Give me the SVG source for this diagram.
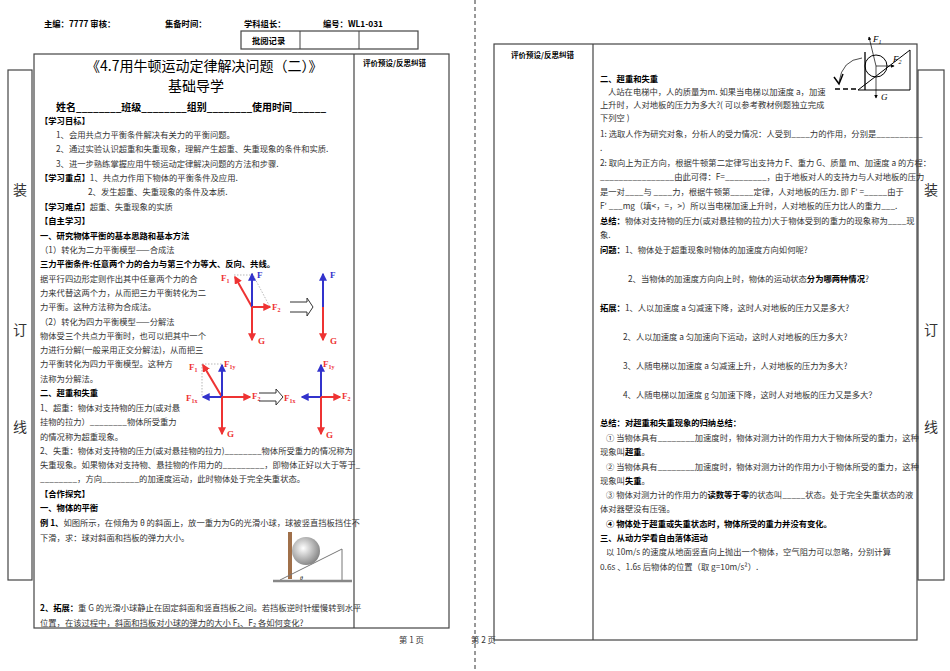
<svg xmlns="http://www.w3.org/2000/svg" width="950" height="671" viewBox="0 0 950 671">
<defs>
<style>
text{font-family:"Noto Sans CJK SC","Liberation Sans",sans-serif;font-size:8.3px;fill:#333}
.b{font-weight:bold;fill:#000}
.h{font-size:14px;fill:#000}
.s{font-size:7.5px}
.frame{fill:none;stroke:#444;stroke-width:1.2}
.red{stroke:#e33;stroke-width:2;fill:none}
.blue{stroke:#33c;stroke-width:2;fill:none}
.dot{stroke:#888;stroke-width:0.6;stroke-dasharray:1.5 1.5;fill:none}
.fr{fill:#e33;font-family:"Liberation Serif",serif;font-weight:bold;font-size:9px}
.fb{fill:#33c;font-family:"Liberation Serif",serif;font-weight:bold;font-size:9px}
.it{font-family:"Liberation Serif",serif;font-style:italic;fill:#000;font-size:9px}
</style>
<marker id="ar" viewBox="0 0 6 6" refX="5" refY="3" markerWidth="4" markerHeight="4" orient="auto"><path d="M0,0L6,3L0,6z" fill="#e33"/></marker>
<marker id="ab" viewBox="0 0 6 6" refX="5" refY="3" markerWidth="4" markerHeight="4" orient="auto"><path d="M0,0L6,3L0,6z" fill="#33c"/></marker>
<marker id="ak" viewBox="0 0 6 6" refX="5" refY="3" markerWidth="5" markerHeight="5" orient="auto"><path d="M0,0L6,3L0,6z" fill="#000"/></marker>
<radialGradient id="ball" cx="0.4" cy="0.4" r="0.7"><stop offset="0" stop-color="#fff"/><stop offset="1" stop-color="#777"/></radialGradient>
</defs>
<rect width="950" height="671" fill="#fff"/>

<g id="header">
<text x="44" y="27" class="b">主编：7777 审核：</text>
<text x="165" y="27" class="b">集备时间：</text>
<text x="244" y="27" class="b">学科组长：</text>
<text x="323" y="27" class="b">编号：WL1-031</text>
<rect x="241" y="31" width="177" height="18" class="frame"/>
<line x1="300" y1="31" x2="300" y2="49" stroke="#444"/>
<line x1="359" y1="31" x2="359" y2="49" stroke="#444"/>
<text x="252" y="44" class="b">批阅记录</text>
</g>

<g id="binding">
<rect x="8" y="70" width="24" height="510" class="frame"/>
<text x="13" y="195" style="font-size:14px">装</text>
<text x="13" y="335" style="font-size:14px">订</text>
<text x="13" y="432" style="font-size:14px">线</text>
<rect x="918" y="70" width="26" height="510" class="frame"/>
<text x="924" y="195" style="font-size:14px">装</text>
<text x="924" y="335" style="font-size:14px">订</text>
<text x="924" y="432" style="font-size:14px">线</text>
<line x1="475" y1="0" x2="475" y2="671" stroke="#333" stroke-dasharray="4 3"/>
<text x="399" y="643">第 1 页</text>
<text x="471" y="643">第 2 页</text>
</g>

<g id="page1">
<rect x="34" y="54" width="415" height="574" class="frame"/>
<line x1="354" y1="54" x2="354" y2="628" stroke="#444" stroke-width="1.2"/>
<text x="363" y="66" class="b s">评价预设/反思纠错</text>
<text x="86" y="71" class="h">《4.7用牛顿运动定律解决问题（二）》</text>
<text x="168" y="91" class="h">基础导学</text>
<text x="56" y="111" class="b" style="font-size:10px">姓名________班级________组别________使用时间______</text>
<text x="40" y="124" class="b">【学习目标】</text>
<text x="56" y="138">1、会用共点力平衡条件解决有关力的平衡问题。</text>
<text x="56" y="152">2、通过实验认识超重和失重现象，理解产生超重、失重现象的条件和实质.</text>
<text x="56" y="167">3、进一步熟练掌握应用牛顿运动定律解决问题的方法和步骤.</text>
<text x="40" y="181"><tspan class="b">【学习重点】</tspan>1、共点力作用下物体的平衡条件及应用.</text>
<text x="88" y="195">2、发生超重、失重现象的条件及本质.</text>
<text x="40" y="210"><tspan class="b">【学习难点】</tspan>超重、失重现象的实质</text>
<text x="40" y="224" class="b">【自主学习】</text>
<text x="40" y="239" class="b">一、研究物体平衡的基本思路和基本方法</text>
<text x="40" y="253">（1）转化为二力平衡模型——合成法</text>
<text x="40" y="267" class="b">三力平衡条件:任意两个力的合力与第三个力等大、反向、共线。</text>
<text x="40" y="282">据平行四边形定则作出其中任意两个力的合</text>
<text x="40" y="296">力来代替这两个力，从而把三力平衡转化为二</text>
<text x="40" y="310">力平衡。这种方法称为合成法。</text>
<text x="40" y="325">（2）转化为四力平衡模型——分解法</text>
<text x="40" y="339">物体受三个共点力平衡时，也可以把其中一个</text>
<text x="40" y="353">力进行分解(一般采用正交分解法)，从而把三</text>
<text x="40" y="367">力平衡转化为四力平衡模型。这种方</text>
<text x="40" y="382">法称为分解法。</text>
<text x="40" y="396" class="b">二、超重和失重</text>
<text x="40" y="411">1、超重：物体对支持物的压力(或对悬</text>
<text x="40" y="425">挂物的拉力）________物体所受重力</text>
<text x="40" y="440">的情况称为超重现象。</text>
<text x="40" y="454">2、失重：物体对支持物的压力(或对悬挂物的拉力)________物体所受重力的情况称为</text>
<text x="40" y="468">失重现象。如果物体对支持物、悬挂物的作用力的_________，即物体正好以大于等于_</text>
<text x="40" y="482">________，方向________的加速度运动，此时物体处于完全失重状态。</text>
<text x="40" y="497" class="b">【合作探究】</text>
<text x="40" y="511" class="b">一、物体的平衡</text>
<text x="40" y="526"><tspan class="b">例 1、</tspan>如图所示，在倾角为 θ 的斜面上，放一重力为G的光滑小球，球被竖直挡板挡住不</text>
<text x="40" y="541">下滑，求：球对斜面和挡板的弹力大小。</text>
<text x="40" y="611"><tspan class="b">2、拓展：</tspan>重 G 的光滑小球静止在固定斜面和竖直挡板之间。若挡板逆时针缓慢转到水平</text>
<text x="40" y="626">位置，在该过程中，斜面和挡板对小球的弹力的大小 F₁、F₂ 各如何变化?</text>
</g>

<g id="figA">
<line x1="234" y1="275" x2="252" y2="275" class="dot"/>
<line x1="252" y1="273" x2="270" y2="307" class="dot"/>
<line x1="252" y1="307" x2="235" y2="277" class="red" marker-end="url(#ar)"/>
<line x1="252" y1="307" x2="252" y2="274" class="blue" marker-end="url(#ab)"/>
<line x1="252" y1="307" x2="270" y2="307" class="red" marker-end="url(#ar)"/>
<line x1="252" y1="307" x2="252" y2="340" class="red" marker-end="url(#ar)"/>
<text x="221" y="281" class="fr">F<tspan dy="2" font-size="6">1</tspan></text>
<text x="257" y="278" class="fb">F</text>
<text x="272" y="310" class="fr">F<tspan dy="2" font-size="6">2</tspan></text>
<text x="258" y="344" class="fr">G</text>
<path d="M290,302H307V298L313,307L307,316V312H290" fill="none" stroke="#333"/>
<line x1="323" y1="307" x2="323" y2="274" class="blue" marker-end="url(#ab)"/>
<line x1="323" y1="307" x2="323" y2="340" class="red" marker-end="url(#ar)"/>
<text x="330" y="278" class="fb">F</text>
<text x="330" y="344" class="fr">G</text>
</g>

<g id="figB">
<line x1="202" y1="364" x2="222" y2="364" class="dot"/>
<line x1="202" y1="364" x2="202" y2="397" class="dot"/>
<line x1="222" y1="397" x2="203" y2="365" class="red" marker-end="url(#ar)"/>
<line x1="222" y1="397" x2="222" y2="365" class="blue" marker-end="url(#ab)"/>
<line x1="222" y1="397" x2="250" y2="397" class="red" marker-end="url(#ar)"/>
<line x1="222" y1="397" x2="203" y2="397" class="blue" marker-end="url(#ab)"/>
<line x1="222" y1="397" x2="222" y2="434" class="red" marker-end="url(#ar)"/>
<text x="189" y="370" class="fr">F<tspan dy="2" font-size="6">1</tspan></text>
<text x="224" y="367" class="fr">F<tspan dy="2" font-size="6">1y</tspan></text>
<text x="252" y="399" class="fr">F<tspan dy="2" font-size="6">2</tspan></text>
<text x="186" y="401" class="fr">F<tspan dy="2" font-size="6">1x</tspan></text>
<text x="227" y="437" class="fr">G</text>
<path d="M259,393H276V389L283,397L276,405V401H259" fill="none" stroke="#333"/>
<text x="284" y="401" class="fr">F<tspan dy="2" font-size="6">1x</tspan></text>
<line x1="321" y1="397" x2="321" y2="365" class="blue" marker-end="url(#ab)"/>
<line x1="321" y1="397" x2="302" y2="397" class="blue" marker-end="url(#ab)"/>
<line x1="321" y1="397" x2="340" y2="397" class="red" marker-end="url(#ar)"/>
<line x1="321" y1="397" x2="321" y2="434" class="red" marker-end="url(#ar)"/>
<text x="323" y="367" class="fr">F<tspan dy="2" font-size="6">1y</tspan></text>
<text x="342" y="399" class="fr">F<tspan dy="2" font-size="6">2</tspan></text>
<text x="326" y="438" class="fr">G</text>
</g>

<g id="figBall">
<rect x="288" y="532" width="4" height="47" fill="#a0704a"/>
<circle cx="306" cy="551" r="14" fill="url(#ball)"/>
<path d="M280,580L342,549V580" fill="none" stroke="#777"/>
<line x1="273" y1="581" x2="352" y2="581" stroke="#888" stroke-width="2.5"/>
<text x="300" y="580" class="it" style="font-size:6px">θ</text>
</g>

<g id="page2">
<rect x="494" y="44" width="423" height="596" class="frame"/>
<line x1="593" y1="44" x2="593" y2="640" stroke="#444" stroke-width="1.2"/>
<text x="511" y="58" class="b s">评价预设/反思纠错</text>
<text x="600" y="82" class="b">二、超重和失重</text>
<text x="608" y="95">人站在电梯中，人的质量为m. 如果当电梯以加速度 a，加速</text>
<text x="600" y="108">上升时，人对地板的压力为多大?( 可以参考教材例题独立完成</text>
<text x="600" y="121">下列空 )</text>
<text x="600" y="137">1: 选取人作为研究对象，分析人的受力情况：人受到____力的作用，分别是__________</text>
<text x="600" y="151">.</text>
<text x="600" y="166">2: 取向上为正方向，根据牛顿第二定律写出支持力 F、重力 G、质量 m、加速度 a 的方程：</text>
<text x="600" y="180"> ________________由此可得：F=_________，由于地板对人的支持力与人对地板的压力</text>
<text x="600" y="195">是一对____与 ____力，根据牛顿第_____定律，人对地板的压力. 即 F′ =_____由于</text>
<text x="600" y="209">F′ ___mg（填&lt;，=，&gt;）所以当电梯加速上升时，人对地板的压力比人的重力___.</text>
<text x="600" y="224"><tspan class="b">总结：</tspan>物体对支持物的压力(或对悬挂物的拉力)大于物体受到的重力的现象称为____现</text>
<text x="600" y="238">象.</text>
<text x="600" y="253"><tspan class="b">问题：</tspan>1、物体处于超重现象时物体的加速度方向如何呢?</text>
<text x="628" y="282">2、当物体的加速度方向向上时，物体的运动状态<tspan class="b">分为哪两种情况</tspan>?</text>
<text x="600" y="311"><tspan class="b">拓展：</tspan>1、人以加速度 a 匀减速下降，这时人对地板的压力又是多大?</text>
<text x="623" y="340">2、人以加速度 a 匀加速向下运动，这时人对地板的压力多大?</text>
<text x="623" y="369">3、人随电梯以加速度 a 匀减速上升，人对地板的压力为多大?</text>
<text x="623" y="398">4、人随电梯以加速度 g 匀加速下降，这时人对地板的压力又是多大？</text>
<text x="600" y="426" class="b">总结：对超重和失重现象的归纳总结：</text>
<text x="606" y="441">① 当物体具有________加速度时，物体对测力计的作用力大于物体所受的重力，这种</text>
<text x="600" y="455">现象叫<tspan class="b">超重</tspan>。</text>
<text x="606" y="470">② 当物体具有________加速度时，物体对测力计的作用力小于物体所受的重力，这种</text>
<text x="600" y="484">现象叫<tspan class="b">失重</tspan>。</text>
<text x="606" y="498">③ 物体对测力计的作用力的<tspan class="b">读数等于零</tspan>的状态叫_____状态。处于完全失重状态的液</text>
<text x="600" y="512">体对器壁没有压强。</text>
<text x="606" y="527" class="b">④ 物体处于超重或失重状态时，物体所受的重力并没有变化。</text>
<text x="600" y="541" class="b">三、从动力学看自由落体运动</text>
<text x="606" y="555">以 10m/s 的速度从地面竖直向上抛出一个物体，空气阻力可以忽略，分别计算</text>
<text x="600" y="570">0.6s 、1.6s 后物体的位置（取 g=10m/s²）.</text>
</g>

<g id="figTop">
<line x1="865" y1="52" x2="865" y2="90" stroke="#000" stroke-width="1.3"/>
<circle cx="876" cy="66" r="11" fill="none" stroke="#000"/>
<path d="M858,90L910,50V90Z" fill="none" stroke="#000"/>
<line x1="835" y1="89" x2="857" y2="89" stroke="#000" stroke-width="1.3" stroke-dasharray="5 3"/>
<path d="M862,58Q842,60 839,82" fill="none" stroke="#000" stroke-width="0.7"/>
<path d="M834,77L839,84L843,74" fill="none" stroke="#000" stroke-width="1.5"/>
<line x1="876" y1="66" x2="869" y2="37" stroke="#000" stroke-width="0.7" marker-end="url(#ak)"/>
<line x1="876" y1="66" x2="894" y2="66" stroke="#000" stroke-width="0.7" marker-end="url(#ak)"/>
<line x1="876" y1="66" x2="876" y2="98" stroke="#000" stroke-width="0.7" marker-end="url(#ak)"/>
<text x="873" y="42" class="it">F<tspan dy="2" font-size="6">1</tspan></text>
<text x="893" y="62" class="it">F<tspan dy="2" font-size="6">2</tspan></text>
<text x="881" y="100" class="it">G</text>
</g>
</svg>
